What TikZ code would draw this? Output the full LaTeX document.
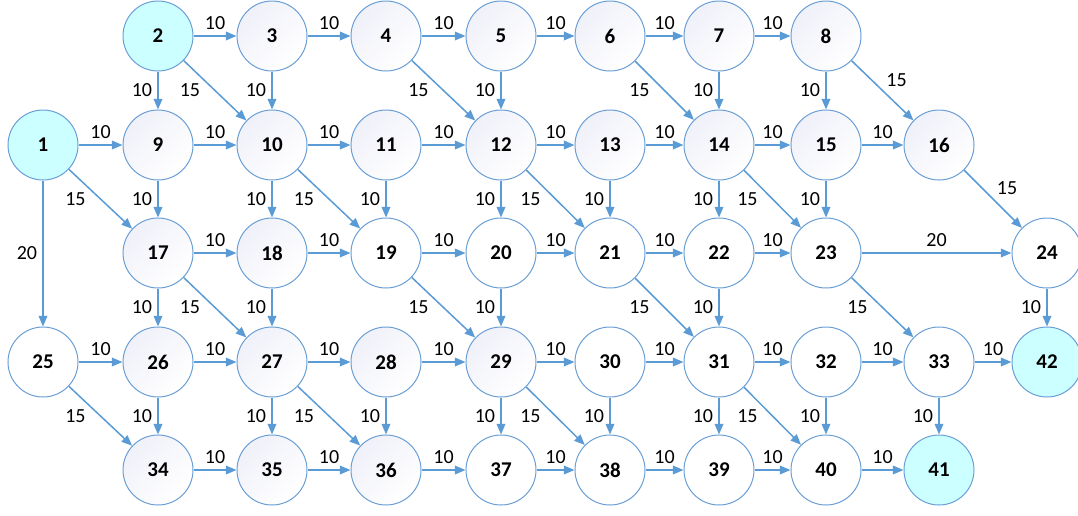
\documentclass[tikz,border=0pt]{standalone}
\usepackage{fontspec}
\setmainfont{Carlito}
\usetikzlibrary{arrows.meta}
\definecolor{edgeBlue}{HTML}{5B9BD5}
\definecolor{ringBlue}{HTML}{6A9FD6}
\definecolor{softCyan}{HTML}{CCFFFF}
\definecolor{softLilac}{HTML}{F0F1F9}

\begin{document}
\begin{tikzpicture}[
    x=0.5pt, y=-0.5pt,
    vtx/.style={circle, draw=ringBlue, line width=0.5pt, fill=white, minimum size=35pt, inner sep=0pt, font=\bfseries\fontsize{10.5}{12}\selectfont},
    vtxs/.style={vtx, top color=softLilac, bottom color=white, shading angle=45},
    term/.style={vtx, fill=softCyan},
    arrow/.style={-{Triangle[length=5.3pt,width=4.3pt]}, line width=0.75pt, draw=edgeBlue},
    wt/.style={font=\fontsize{10}{12}\selectfont, inner sep=2.6pt},
    hw/.style={wt, above},
    vw/.style={wt, left},
    dw/.style={wt, left=4.5pt},
    uw/.style={wt, above right=-1pt}
  ]
    \useasboundingbox (0,0) rectangle (1078,515);
    % row 1
    \node[term] (n2) at (158,36) {2};
    \node[vtxs] (n3) at (272,36) {3};
    \node[vtxs] (n4) at (386,36) {4};
    \node[vtxs] (n5) at (501,36) {5};
    \node[vtxs] (n6) at (610,36) {6};
    \node[vtxs] (n7) at (719,36) {7};
    \node[vtxs] (n8) at (826,36) {8};
    % row 2
    \node[term] (n1) at (43,145) {1};
    \node[vtxs] (n9) at (158,145) {9};
    \node[vtxs] (n10) at (272,145) {10};
    \node[vtxs] (n11) at (386,145) {11};
    \node[vtxs] (n12) at (501,145) {12};
    \node[vtxs] (n13) at (610,145) {13};
    \node[vtxs] (n14) at (719,145) {14};
    \node[vtxs] (n15) at (826,145) {15};
    \node[vtxs] (n16) at (939,145) {16};
    % row 3
    \node[vtxs] (n17) at (158,253) {17};
    \node[vtxs] (n18) at (272,253) {18};
    \node[vtx] (n19) at (386,253) {19};
    \node[vtx] (n20) at (501,253) {20};
    \node[vtx] (n21) at (610,253) {21};
    \node[vtx] (n22) at (719,253) {22};
    \node[vtx] (n23) at (826,253) {23};
    \node[vtx] (n24) at (1047,253) {24};
    % row 4
    \node[vtx] (n25) at (43,362) {25};
    \node[vtxs] (n26) at (158,362) {26};
    \node[vtxs] (n27) at (272,362) {27};
    \node[vtxs] (n28) at (386,362) {28};
    \node[vtxs] (n29) at (501,362) {29};
    \node[vtx] (n30) at (610,362) {30};
    \node[vtx] (n31) at (719,362) {31};
    \node[vtx] (n32) at (826,362) {32};
    \node[vtx] (n33) at (939,362) {33};
    \node[term] (n42) at (1047,362) {42};
    % row 5
    \node[vtxs] (n34) at (158,470) {34};
    \node[vtxs] (n35) at (272,470) {35};
    \node[vtxs] (n36) at (386,470) {36};
    \node[vtx] (n37) at (501,470) {37};
    \node[vtx] (n38) at (610,470) {38};
    \node[vtx] (n39) at (719,470) {39};
    \node[vtx] (n40) at (826,470) {40};
    \node[term] (n41) at (939,470) {41};

    % edges from row 1
    \draw[arrow] (n2) -- node[hw] {10} (n3);
    \draw[arrow] (n3) -- node[hw] {10} (n4);
    \draw[arrow] (n4) -- node[hw] {10} (n5);
    \draw[arrow] (n5) -- node[hw] {10} (n6);
    \draw[arrow] (n6) -- node[hw] {10} (n7);
    \draw[arrow] (n7) -- node[hw] {10} (n8);
    \draw[arrow] (n2) -- node[vw] {10} (n9);
    \draw[arrow] (n3) -- node[vw] {10} (n10);
    \draw[arrow] (n5) -- node[vw] {10} (n12);
    \draw[arrow] (n7) -- node[vw] {10} (n14);
    \draw[arrow] (n8) -- node[vw] {10} (n15);
    \draw[arrow] (n2) -- node[dw] {15} (n10);
    \draw[arrow] (n4) -- node[dw] {15} (n12);
    \draw[arrow] (n6) -- node[dw] {15} (n14);
    \draw[arrow] (n8) -- node[uw] {15} (n16);
    % edges from row 2
    \draw[arrow] (n1) -- node[hw] {10} (n9);
    \draw[arrow] (n9) -- node[hw] {10} (n10);
    \draw[arrow] (n10) -- node[hw] {10} (n11);
    \draw[arrow] (n11) -- node[hw] {10} (n12);
    \draw[arrow] (n12) -- node[hw] {10} (n13);
    \draw[arrow] (n13) -- node[hw] {10} (n14);
    \draw[arrow] (n14) -- node[hw] {10} (n15);
    \draw[arrow] (n15) -- node[hw] {10} (n16);
    \draw[arrow] (n1) -- node[vw] {20} (n25);
    \draw[arrow] (n9) -- node[vw] {10} (n17);
    \draw[arrow] (n10) -- node[vw] {10} (n18);
    \draw[arrow] (n11) -- node[vw] {10} (n19);
    \draw[arrow] (n12) -- node[vw] {10} (n20);
    \draw[arrow] (n13) -- node[vw] {10} (n21);
    \draw[arrow] (n14) -- node[vw] {10} (n22);
    \draw[arrow] (n15) -- node[vw] {10} (n23);
    \draw[arrow] (n1) -- node[dw] {15} (n17);
    \draw[arrow] (n10) -- node[dw] {15} (n19);
    \draw[arrow] (n12) -- node[dw] {15} (n21);
    \draw[arrow] (n14) -- node[dw] {15} (n23);
    \draw[arrow] (n16) -- node[uw] {15} (n24);
    % edges from row 3
    \draw[arrow] (n17) -- node[hw] {10} (n18);
    \draw[arrow] (n18) -- node[hw] {10} (n19);
    \draw[arrow] (n19) -- node[hw] {10} (n20);
    \draw[arrow] (n20) -- node[hw] {10} (n21);
    \draw[arrow] (n21) -- node[hw] {10} (n22);
    \draw[arrow] (n22) -- node[hw] {10} (n23);
    \draw[arrow] (n23) -- node[hw] {20} (n24);
    \draw[arrow] (n17) -- node[vw] {10} (n26);
    \draw[arrow] (n18) -- node[vw] {10} (n27);
    \draw[arrow] (n20) -- node[vw] {10} (n29);
    \draw[arrow] (n22) -- node[vw] {10} (n31);
    \draw[arrow] (n24) -- node[vw] {10} (n42);
    \draw[arrow] (n17) -- node[dw] {15} (n27);
    \draw[arrow] (n19) -- node[dw] {15} (n29);
    \draw[arrow] (n21) -- node[dw] {15} (n31);
    \draw[arrow] (n23) -- node[dw] {15} (n33);
    % edges from row 4
    \draw[arrow] (n25) -- node[hw] {10} (n26);
    \draw[arrow] (n26) -- node[hw] {10} (n27);
    \draw[arrow] (n27) -- node[hw] {10} (n28);
    \draw[arrow] (n28) -- node[hw] {10} (n29);
    \draw[arrow] (n29) -- node[hw] {10} (n30);
    \draw[arrow] (n30) -- node[hw] {10} (n31);
    \draw[arrow] (n31) -- node[hw] {10} (n32);
    \draw[arrow] (n32) -- node[hw] {10} (n33);
    \draw[arrow] (n33) -- node[hw] {10} (n42);
    \draw[arrow] (n26) -- node[vw] {10} (n34);
    \draw[arrow] (n27) -- node[vw] {10} (n35);
    \draw[arrow] (n28) -- node[vw] {10} (n36);
    \draw[arrow] (n29) -- node[vw] {10} (n37);
    \draw[arrow] (n30) -- node[vw] {10} (n38);
    \draw[arrow] (n31) -- node[vw] {10} (n39);
    \draw[arrow] (n32) -- node[vw] {10} (n40);
    \draw[arrow] (n33) -- node[vw] {10} (n41);
    \draw[arrow] (n25) -- node[dw] {15} (n34);
    \draw[arrow] (n27) -- node[dw] {15} (n36);
    \draw[arrow] (n29) -- node[dw] {15} (n38);
    \draw[arrow] (n31) -- node[dw] {15} (n40);
    % edges in row 5
    \draw[arrow] (n34) -- node[hw] {10} (n35);
    \draw[arrow] (n35) -- node[hw] {10} (n36);
    \draw[arrow] (n36) -- node[hw] {10} (n37);
    \draw[arrow] (n37) -- node[hw] {10} (n38);
    \draw[arrow] (n38) -- node[hw] {10} (n39);
    \draw[arrow] (n39) -- node[hw] {10} (n40);
    \draw[arrow] (n40) -- node[hw] {10} (n41);
\end{tikzpicture}
\end{document}
